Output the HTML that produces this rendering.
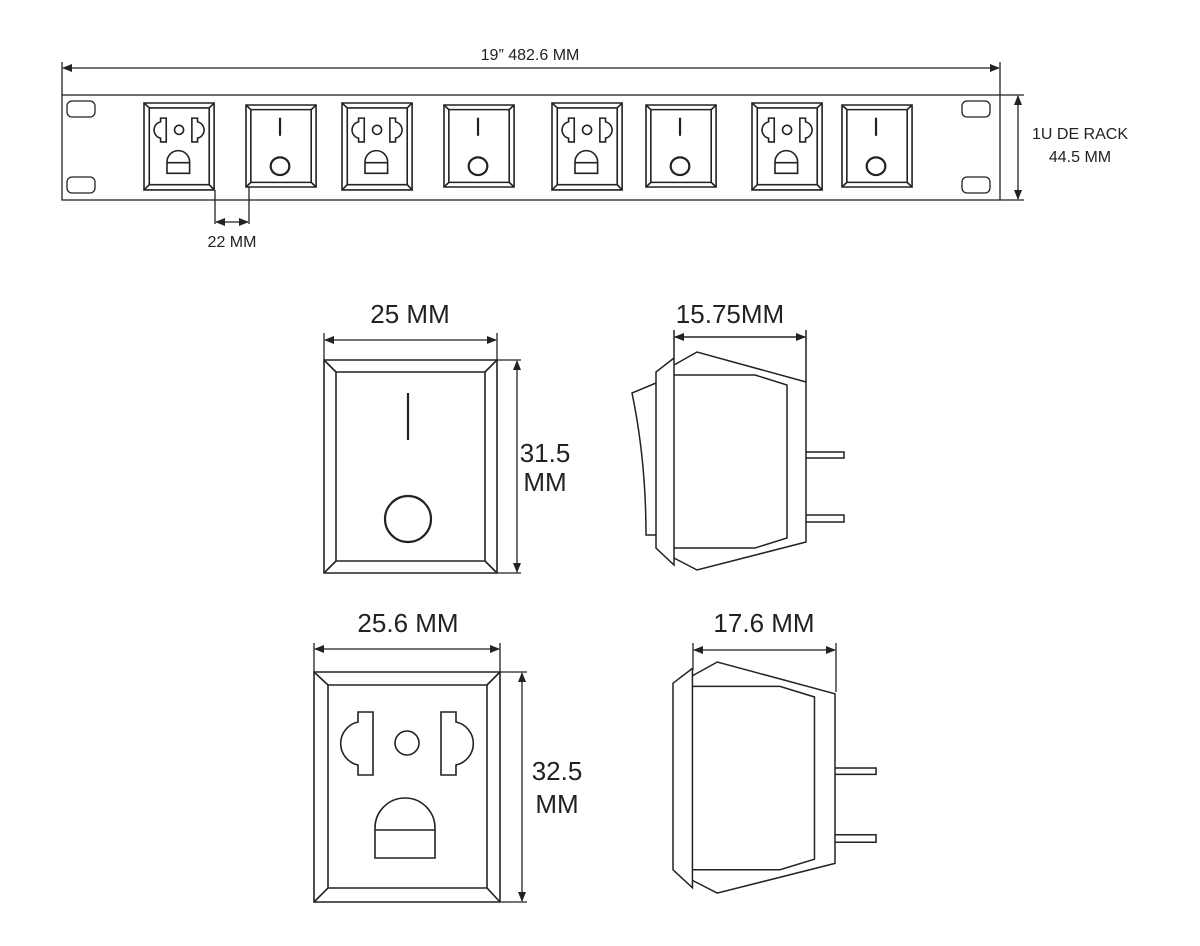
<!DOCTYPE html>
<html><head><style>html,body{margin:0;padding:0;background:#fff}svg{display:block}text{font-family:"Liberation Sans",sans-serif;fill:#222}</style></head>
<body>
<svg width="1200" height="946" viewBox="0 0 1200 946" xmlns="http://www.w3.org/2000/svg">
<defs>
<marker id="a" markerWidth="10" markerHeight="8" refX="9" refY="4" orient="auto-start-reverse" markerUnits="userSpaceOnUse"><path d="M0,0 L10,4 L0,8 Z" fill="#222"/></marker>
<g id="outlet" fill="none" stroke="#222" stroke-width="1.6">
<rect x="0" y="0" width="186" height="230" vector-effect="non-scaling-stroke"/>
<rect x="14" y="13" width="159" height="203" vector-effect="non-scaling-stroke"/>
<path d="M0,0 L14,13 M186,0 L173,13 M0,230 L14,216 M186,230 L173,216" vector-effect="non-scaling-stroke"/>
<circle cx="93" cy="71" r="12" vector-effect="non-scaling-stroke"/>
<path d="M59,40 L44,40 L44,50 A22,22 0 0 0 44,93 L44,103 L59,103 Z" vector-effect="non-scaling-stroke"/>
<path d="M127,40 L142,40 L142,50 A22,22 0 0 1 142,93 L142,103 L127,103 Z" vector-effect="non-scaling-stroke"/>
<path d="M61,186 L61,156 A30,30 0 0 1 121,156 L121,186 Z M61,158 L121,158" vector-effect="non-scaling-stroke"/>
</g>
<g id="switch" fill="none" stroke="#222" stroke-width="1.6">
<rect x="0" y="0" width="173" height="213" vector-effect="non-scaling-stroke"/>
<rect x="12" y="12" width="149" height="189" vector-effect="non-scaling-stroke"/>
<path d="M0,0 L12,12 M173,0 L161,12 M0,213 L12,201 M173,213 L161,201" vector-effect="non-scaling-stroke"/>
<path d="M84,33 L84,80" stroke-width="2.2" vector-effect="non-scaling-stroke"/>
<circle cx="84" cy="159" r="23" stroke-width="2.2" vector-effect="non-scaling-stroke"/>
</g>
<g id="side" fill="none" stroke="#222" stroke-width="1.5">
<path d="M674,365 L697,352 L806,382 L806,542 L697,570 L674,558" vector-effect="non-scaling-stroke"/>
<path d="M674,375 L755,375 L787,385 L787,538 L755,548 L674,548" vector-effect="non-scaling-stroke"/>
<path d="M674,358 L674,565 L656,548 L656,372 L674,358" vector-effect="non-scaling-stroke"/>
<path d="M806,452 L844,452 L844,458 L806,458 M806,515 L844,515 L844,522 L806,522" vector-effect="non-scaling-stroke"/>
</g>
</defs>

<!-- top panel -->
<g fill="none" stroke="#222" stroke-width="1.3">
<rect x="62" y="95" width="938" height="105"/>
<path d="M62,62 L62,95 M1000,62 L1000,95"/>
<line x1="63" y1="68" x2="999" y2="68" marker-start="url(#a)" marker-end="url(#a)"/>
<path d="M1000,95 L1024,95 M1000,200 L1024,200"/>
<line x1="1018" y1="96" x2="1018" y2="199" marker-start="url(#a)" marker-end="url(#a)"/>
<rect x="67" y="101" width="28" height="16" rx="5"/>
<rect x="67" y="177" width="28" height="16" rx="5"/>
<rect x="962" y="101" width="28" height="16" rx="5"/>
<rect x="962" y="177" width="28" height="16" rx="5"/>
<path d="M215,190 L215,224 M249,187 L249,224"/>
<line x1="216" y1="222" x2="248" y2="222" marker-start="url(#a)" marker-end="url(#a)"/>
</g>
<text x="530" y="60" font-size="16" text-anchor="middle">19”  482.6 MM</text>
<text x="1080" y="139" font-size="16" text-anchor="middle">1U DE RACK</text>
<text x="1080" y="162" font-size="16" text-anchor="middle">44.5 MM</text>
<text x="232" y="247" font-size="16" text-anchor="middle">22 MM</text>

<use href="#outlet" transform="translate(144,103) scale(0.377,0.378)"/>
<use href="#switch" transform="translate(246,105) scale(0.405,0.385)"/>
<use href="#outlet" transform="translate(342,103) scale(0.377,0.378)"/>
<use href="#switch" transform="translate(444,105) scale(0.405,0.385)"/>
<use href="#outlet" transform="translate(552,103) scale(0.377,0.378)"/>
<use href="#switch" transform="translate(646,105) scale(0.405,0.385)"/>
<use href="#outlet" transform="translate(752,103) scale(0.377,0.378)"/>
<use href="#switch" transform="translate(842,105) scale(0.405,0.385)"/>

<!-- switch front -->
<use href="#switch" transform="translate(324,360)"/>
<g fill="none" stroke="#222" stroke-width="1.3">
<path d="M324,333 L324,360 M497,333 L497,360"/>
<line x1="325" y1="340" x2="496" y2="340" marker-start="url(#a)" marker-end="url(#a)"/>
<path d="M497,360 L521,360 M497,573 L521,573"/>
<line x1="517" y1="361" x2="517" y2="572" marker-start="url(#a)" marker-end="url(#a)"/>
</g>
<text x="410" y="323" font-size="26" text-anchor="middle">25 MM</text>
<text x="545" y="462" font-size="26" text-anchor="middle">31.5</text>
<text x="545" y="491" font-size="26" text-anchor="middle">MM</text>

<!-- switch side -->
<use href="#side"/>
<g fill="none" stroke="#222" stroke-width="1.5">
<path d="M656,383 L632,393 Q646,460 646,535 L656,535"/>
<path d="M674,330 L674,358 M806,330 L806,382"/>
<line x1="675" y1="337" x2="805" y2="337" marker-start="url(#a)" marker-end="url(#a)"/>
</g>
<text x="730" y="323" font-size="26" text-anchor="middle">15.75MM</text>

<!-- outlet front -->
<use href="#outlet" transform="translate(314,672)"/>
<g fill="none" stroke="#222" stroke-width="1.3">
<path d="M314,643 L314,672 M500,643 L500,672"/>
<line x1="315" y1="649" x2="499" y2="649" marker-start="url(#a)" marker-end="url(#a)"/>
<path d="M500,672 L527,672 M500,902 L527,902"/>
<line x1="522" y1="673" x2="522" y2="901" marker-start="url(#a)" marker-end="url(#a)"/>
</g>
<text x="408" y="632" font-size="26" text-anchor="middle">25.6 MM</text>
<text x="557" y="780" font-size="26" text-anchor="middle">32.5</text>
<text x="557" y="813" font-size="26" text-anchor="middle">MM</text>

<!-- outlet side -->
<use href="#side" transform="translate(673,662) scale(1.08,1.06) translate(-656,-352)"/>
<g fill="none" stroke="#222" stroke-width="1.3">
<path d="M693,643 L693,670 M836,643 L836,692"/>
<line x1="694" y1="650" x2="835" y2="650" marker-start="url(#a)" marker-end="url(#a)"/>
</g>
<text x="764" y="632" font-size="26" text-anchor="middle">17.6 MM</text>
</svg>
</body></html>
